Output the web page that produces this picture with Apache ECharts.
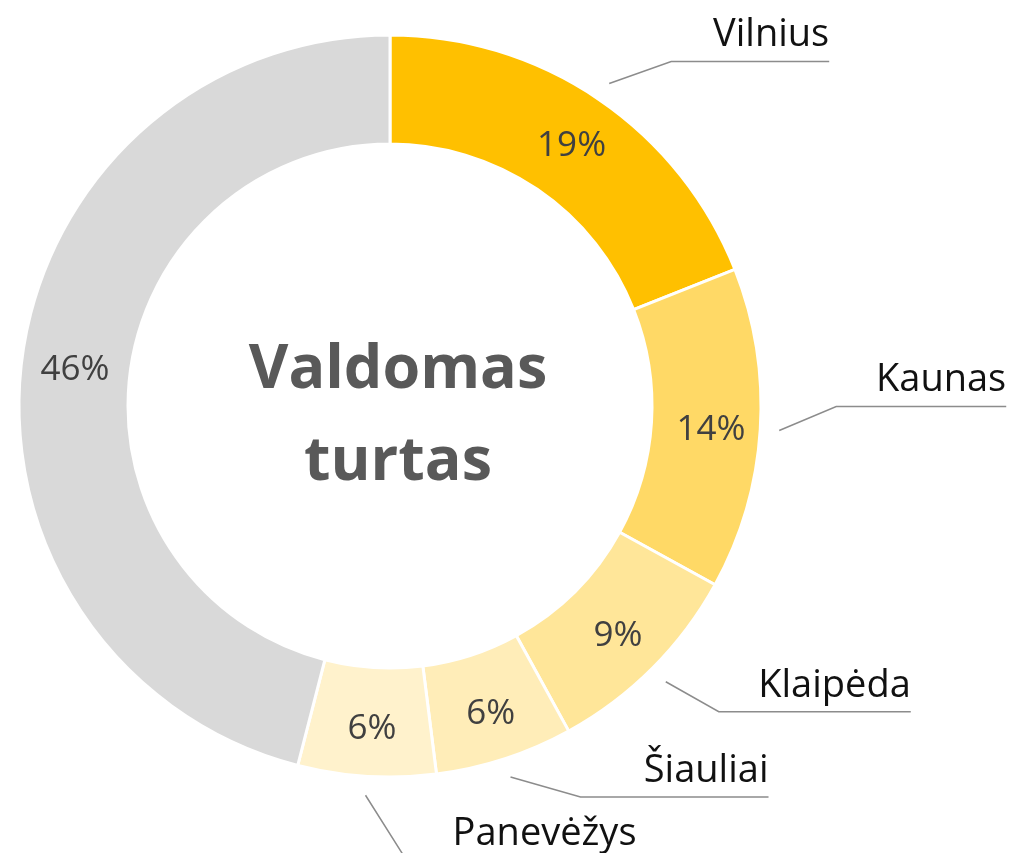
<!DOCTYPE html>
<html>
<head>
<meta charset="utf-8">
<script src="https://cdn.jsdelivr.net/npm/echarts@6/dist/echarts.min.js"></script>
<style>
  html, body { margin: 0; padding: 0; background: #fff; }
  #main { width: 1011px; height: 853px; }
</style>
</head>
<body>
<div id="main"></div>
<script>
// 城市占比 (%)
const cities = ['Vilnius', 'Kaunas', 'Klaipėda', 'Šiauliai', 'Panevėžys', 'Kiti']
const shares = [19, 14, 9, 6, 6, 46]
const colors = ['#FFC000', '#FFD966', '#FFE699', '#FFEDB8', '#FFF2CC', '#D9D9D9']
const centerTitle = 'Valdomas\nturtas'

// 引线样式：起点外扩、折点偏移、水平段长度
const leaderGap = 19
const leaderBend = [[62, -22], [57, -24], [53, 30], [70, 20], [41, 65]]
const leaderLen = [158, 170, 192, 188, 230]

const cx = 390, cy = 406, rIn = 262, rOut = 371
const font = '"Open Sans", "Noto Sans", sans-serif'

const myChart = echarts.init(document.getElementById('main'), null, { renderer: 'canvas' })

const pieData = cities.map((name, i) => ({
  name,
  value: shares[i],
  itemStyle: { color: colors[i] }
}))

// 外侧名称标签（透明扇区叠加）
const nameData = cities.map((name, i) => {
  const item = { name, value: shares[i] }
  if (i >= leaderBend.length) {
    item.label = { show: false }
    item.labelLine = { show: false }
  }
  return item
})

const option = {
  animation: false,
  graphic: [{
    type: 'text',
    x: 398,
    y: 417,
    style: {
      text: centerTitle,
      fontFamily: font,
      fontSize: 61,
      fontWeight: 'bold',
      fill: '#595959',
      align: 'center',
      verticalAlign: 'middle',
      lineHeight: 92
    }
  }],
  series: [{
    type: 'pie',
    center: [cx, cy],
    radius: [rIn, rOut],
    startAngle: 90,
    clockwise: true,
    silent: true,
    itemStyle: { borderColor: '#fff', borderWidth: 3 },
    label: {
      show: true,
      position: 'inside',
      formatter: p => Math.round(p.percent) + '%',
      fontFamily: font,
      fontSize: 35,
      color: '#404040',
      offset: [2, 4]
    },
    labelLine: { show: false },
    data: pieData
  }, {
    type: 'pie',
    center: [cx, cy],
    radius: [rIn, rOut],
    startAngle: 90,
    clockwise: true,
    silent: true,
    itemStyle: { color: 'rgba(0,0,0,0)' },
    label: {
      show: true,
      position: 'outside',
      formatter: '{b}',
      fontFamily: font,
      fontSize: 38,
      lineHeight: 40,
      color: '#111'
    },
    labelLine: {
      show: true,
      length: 20,
      length2: 20,
      lineStyle: { color: '#8c8c8c', width: 1.5 }
    },
    labelLayout: params => {
      const i = params.dataIndex
      if (i >= leaderBend.length || !params.labelLinePoints) return
      const p0 = params.labelLinePoints[0]
      const ux = p0[0] - cx, uy = p0[1] - cy
      const d = Math.sqrt(ux * ux + uy * uy)
      const sx = cx + ux / d * (rOut + leaderGap)
      const sy = cy + uy / d * (rOut + leaderGap)
      const bx = sx + leaderBend[i][0], by = sy + leaderBend[i][1]
      const ex = bx + leaderLen[i]
      return {
        x: ex,
        y: by - 6,
        align: 'right',
        verticalAlign: 'bottom',
        labelLinePoints: [[sx, sy], [bx, by], [ex, by]]
      }
    },
    data: nameData
  }]
}

myChart.setOption(option)
</script>
</body>
</html>
